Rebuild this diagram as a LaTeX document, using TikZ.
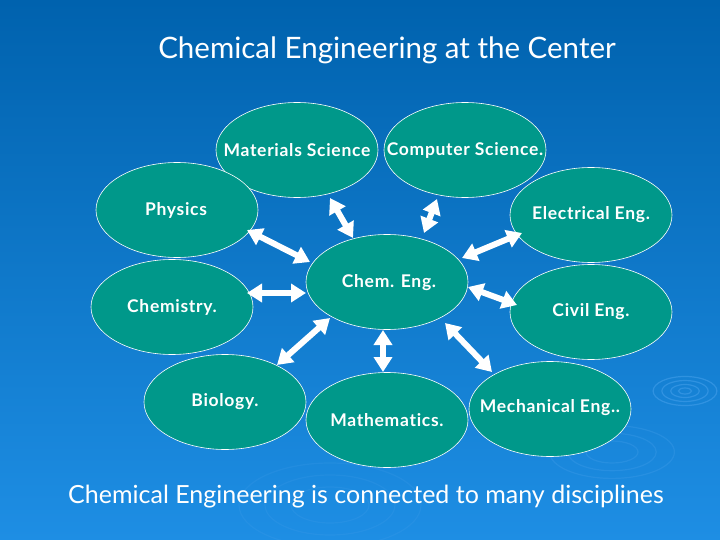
\documentclass[tikz,border=0pt]{standalone}
\usepackage{fontspec}
\setmainfont[Ligatures={NoCommon,NoRare,NoContextual}]{Lato}
\usetikzlibrary{arrows.meta,shapes.geometric}
\definecolor{bgtop}{RGB}{0,98,174}
\definecolor{bgbot}{RGB}{30,142,228}
\definecolor{discfill}{RGB}{0,152,138}
\definecolor{ripple}{RGB}{70,160,235}
\begin{document}
\begin{tikzpicture}[x=1pt,y=-1pt,
  disc/.style={ellipse, draw=white, line width=0.6pt, fill=discfill, minimum width=162pt, minimum height=95pt, inner sep=0pt},
  lab/.style={text=white, font=\bfseries\fontsize{17.5}{20}\selectfont\addfontfeature{LetterSpace=4}, inner sep=0pt},
  link/.style={white, line width=6pt, {Triangle[width=18pt,length=15pt]}-{Triangle[width=18pt,length=15pt]}},
  ring/.style={draw=ripple, line width=1.2pt, opacity=0.55}]
% background
\shade[top color=bgtop, bottom color=bgbot] (0,0) rectangle (720,540);
\useasboundingbox (0,0) rectangle (720,540);
% ripples
\foreach \r in {6,13,21,29} {\draw[ring] (685,391) ellipse ({\r*1.1} and {\r*0.5});}
\foreach \r in {20,34,48} {\draw[ring, opacity=0.3] (612,452) ellipse ({\r*1.3} and {\r*0.55});}
\foreach \r in {30,50,70} {\draw[ring, opacity=0.2] (330,505) ellipse ({\r*1.3} and {\r*0.6});}
% titles
\node[text=white, font=\fontsize{29.5}{34}\selectfont, inner sep=0pt] (title) at (387,50) {Chemical Engineering at the Center};
\node[text=white, font=\fontsize{25}{30}\selectfont, inner sep=0pt] (foot) at (366,497) {Chemical Engineering is connected to many disciplines};
% ellipses
\node[disc] (ms) at (297,150) {};
\node[disc] (cs) at (465,150) {};
\node[disc] (ph) at (177,210) {};
\node[disc] (ch) at (172,307) {};
\node[disc] (ce) at (387,282) {};
\node[disc] (el) at (591,215) {};
\node[disc] (cv) at (591,312) {};
\node[disc] (bi) at (225,402) {};
\node[disc] (ma) at (387,420) {};
\node[disc] (me) at (550,409) {};
% labels
\node[lab] (ms-t) at (ms) {Materials Science};
\node[lab] (cs-t) at (cs) {Computer Science.};
\node[lab] (ph-t) at (176,210) {Physics};
\node[lab] (ch-t) at (172,307) {Chemistry.};
\node[lab] (ce-t) at (389,283) {Chem. Eng.};
\node[lab] (el-t) at (591,215) {Electrical Eng.};
\node[lab] (cv-t) at (591,312) {Civil Eng.};
\node[lab] (bi-t) at (225,402) {Biology.};
\node[lab] (ma-t) at (387,420) {Mathematics.};
\node[lab] (me-t) at (550,408) {Mechanical Eng..};
% arrow ends
\coordinate (a1) at (247,230); \coordinate (b1) at (310,262);
\coordinate (a2) at (330,198); \coordinate (b2) at (353,238);
\coordinate (a3) at (437,199); \coordinate (b3) at (424,233);
\coordinate (a4) at (247,293); \coordinate (b4) at (306,293);
\coordinate (a5) at (462,258); \coordinate (b5) at (522,233);
\coordinate (a6) at (468,287); \coordinate (b6) at (517,305);
\coordinate (a7) at (277,365); \coordinate (b7) at (330,318);
\coordinate (a8) at (383,330); \coordinate (b8) at (383,372);
\coordinate (a9) at (445,323); \coordinate (b9) at (492,372);
\foreach \i in {1,...,9} {\draw[link] (a\i) -- (b\i);}
\end{tikzpicture}
\end{document}
